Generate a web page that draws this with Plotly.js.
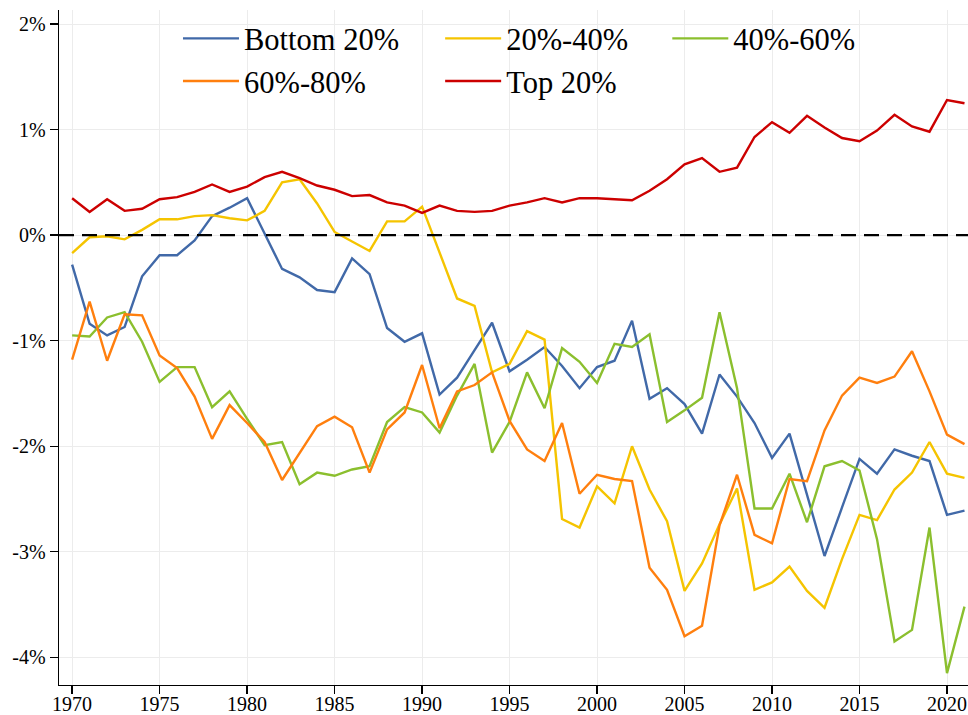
<!DOCTYPE html>
<html>
<head>
<meta charset="utf-8">
<script src="https://cdn.plot.ly/plotly-3.0.1.min.js"></script>
<style>html,body{margin:0;padding:0;background:#fff;}#chart{width:968px;height:715px;}</style>
</head>
<body>
<div id="chart"></div>
<script>
// ---- data (annual change, %) ----
const years = [];
for (let y = 1970; y <= 2021; y++) years.push(y);

const seriesNames = ["Bottom 20%", "20%-40%", "40%-60%", "60%-80%", "Top 20%"];

const bottom20 = [-0.28,-0.84,-0.95,-0.87,-0.39,-0.19,-0.19,-0.05,0.18,0.26,
  0.35,0.01,-0.32,-0.40,-0.52,-0.54,-0.22,-0.37,-0.88,-1.01,
  -0.93,-1.51,-1.35,-1.09,-0.83,-1.29,-1.18,-1.06,-1.24,-1.45,
  -1.25,-1.19,-0.81,-1.55,-1.45,-1.60,-1.88,-1.32,-1.53,-1.78,
  -2.11,-1.88,-2.47,-3.04,-2.58,-2.12,-2.26,-2.03,-2.09,-2.14,
  -2.65,-2.61];

const q20to40 = [-0.17,-0.02,-0.01,-0.04,0.05,0.15,0.15,0.18,0.19,0.16,
  0.14,0.23,0.50,0.53,0.30,0.03,-0.06,-0.15,0.13,0.13,
  0.27,-0.17,-0.60,-0.67,-1.30,-1.22,-0.91,-0.99,-2.69,-2.77,
  -2.38,-2.54,-2.00,-2.41,-2.71,-3.37,-3.11,-2.74,-2.40,-3.36,
  -3.29,-3.14,-3.37,-3.53,-3.07,-2.65,-2.70,-2.41,-2.25,-1.96,
  -2.26,-2.30];

const q40to60 = [-0.95,-0.96,-0.78,-0.73,-1.01,-1.39,-1.25,-1.25,-1.63,-1.48,
  -1.74,-1.99,-1.96,-2.36,-2.25,-2.28,-2.22,-2.19,-1.77,-1.63,
  -1.68,-1.87,-1.52,-1.22,-2.06,-1.77,-1.30,-1.64,-1.07,-1.20,
  -1.40,-1.03,-1.06,-0.94,-1.77,-1.66,-1.54,-0.73,-1.45,-2.59,
  -2.59,-2.26,-2.72,-2.19,-2.14,-2.23,-2.88,-3.85,-3.74,-2.77,
  -4.15,-3.52];

const q60to80 = [-1.18,-0.63,-1.19,-0.75,-0.76,-1.14,-1.26,-1.53,-1.93,-1.61,
  -1.78,-1.96,-2.32,-2.07,-1.81,-1.72,-1.82,-2.25,-1.84,-1.68,
  -1.23,-1.83,-1.48,-1.42,-1.30,-1.76,-2.03,-2.14,-1.78,-2.45,
  -2.27,-2.31,-2.33,-3.15,-3.36,-3.80,-3.70,-2.75,-2.27,-2.84,
  -2.92,-2.31,-2.33,-1.85,-1.52,-1.35,-1.40,-1.34,-1.10,-1.48,
  -1.89,-1.98];

const top20 = [0.35,0.22,0.34,0.23,0.25,0.34,0.36,0.41,0.48,0.41,
  0.46,0.55,0.60,0.54,0.47,0.43,0.37,0.38,0.31,0.28,
  0.21,0.28,0.23,0.22,0.23,0.28,0.31,0.35,0.31,0.35,
  0.35,0.34,0.33,0.42,0.53,0.67,0.73,0.60,0.64,0.93,
  1.07,0.97,1.13,1.02,0.92,0.89,0.99,1.14,1.03,0.98,
  1.28,1.25];

const yTickVals = [-4, -3, -2, -1, 0, 1, 2];
const yTickText = ["-4%", "-3%", "-2%", "-1%", "0%", "1%", "2%"];

// ---- styling ----
const colors = ["#4169a8", "#f5c400", "#8bbf2e", "#ff7f0e", "#cc0000"];
const legendOf = ["legend", "legend2", "legend3", "legend", "legend2"];
const values = [bottom20, q20to40, q40to60, q60to80, top20];

const traces = values.map((v, i) => ({
  type: "scatter",
  mode: "lines",
  x: years,
  y: v,
  name: seriesNames[i],
  legend: legendOf[i],
  line: {color: colors[i], width: 2.4}
}));

const font = {family: "Liberation Serif, Times New Roman, serif", size: 20, color: "#000"};
const legendBase = {
  orientation: "v",
  xanchor: "left",
  yanchor: "top",
  y: 0.997,
  bgcolor: "rgba(0,0,0,0)",
  borderwidth: 0,
  itemwidth: 56,
  font: {family: "Liberation Serif, Times New Roman, serif", size: 30.5, color: "#000"},
  tracegroupgap: 0
};

const layout = {
  width: 968,
  height: 715,
  margin: {l: 59, r: 0, t: 10, b: 30},
  paper_bgcolor: "#fff",
  plot_bgcolor: "#fff",
  font: font,
  showlegend: true,
  legend: Object.assign({}, legendBase, {x: 0.1309}),
  legend2: Object.assign({}, legendBase, {x: 0.4193}),
  legend3: Object.assign({}, legendBase, {x: 0.6692}),
  xaxis: {
    range: [1969.25, 2021.2],
    tick0: 1970,
    dtick: 5,
    showgrid: true,
    gridcolor: "#ececec",
    gridwidth: 1,
    zeroline: false,
    showline: true,
    linecolor: "#000",
    linewidth: 1.3,
    ticks: "outside",
    ticklen: 8,
    tickwidth: 1.3,
    tickcolor: "#000",
    ticklabelstandoff: -7,
    tickfont: font
  },
  yaxis: {
    range: [-4.262, 2.133],
    tickvals: yTickVals,
    ticktext: yTickText,
    showgrid: true,
    gridcolor: "#ececec",
    gridwidth: 1,
    zeroline: false,
    showline: true,
    linecolor: "#000",
    linewidth: 1.3,
    ticks: "outside",
    ticklen: 8,
    tickwidth: 1.3,
    tickcolor: "#000",
    tickfont: font
  },
  shapes: [
    {type: "rect", xref: "paper", yref: "paper", x0: 0.122, x1: 0.891, y0: 0.8563, y1: 0.9896,
     fillcolor: "#fff", line: {width: 0}, layer: "between"},
    {type: "line", xref: "paper", yref: "y", x0: 0, x1: 1, y0: 0, y1: 0,
     line: {color: "#000", width: 2.4, dash: "15px,8px"}, layer: "above"}
  ]
};

Plotly.newPlot("chart", traces, layout, {displayModeBar: false, staticPlot: true});
</script>
</body>
</html>
